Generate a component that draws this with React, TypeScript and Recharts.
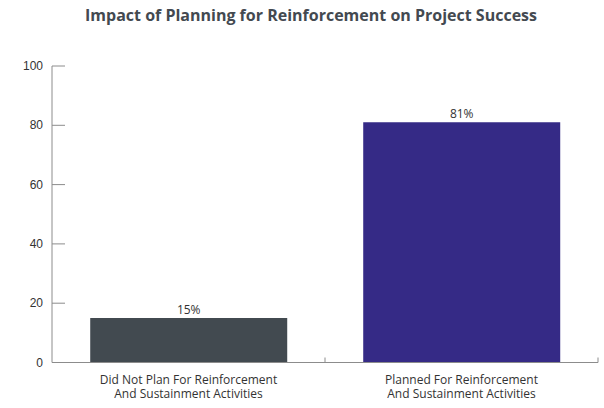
import { Bar, BarChart, Cell, LabelList, XAxis, YAxis } from "recharts";

const categories = [
    ["Did Not Plan For Reinforcement", "And Sustainment Activities"],
    ["Planned For Reinforcement", "And Sustainment Activities"],
];
const successRates = [15, 81];
const yTicks = [0, 20, 40, 60, 80, 100];
const colors = ['#424a50', '#352a86'];

const data = categories.map((lines, i) => ({
    name: lines.join('\n'),
    value: successRates[i],
}));

const axisColor = '#8c8c8c';
const textColor = '#333';
const font = '"Open Sans", sans-serif';

function YTick({ x, y, payload }: any) {
    return (
        <g>
            <line x1={x} y1={y} x2={x + 13} y2={y} stroke={axisColor} strokeWidth={1} />
            <text x={x - 9} y={y} dy={4} textAnchor="end" fontSize={12} fill={textColor} fontFamily='"Liberation Sans", Arial, sans-serif'>
                {payload.value}
            </text>
        </g>
    );
}

function XTick({ x, y, payload }: any) {
    const half = payload.offset || 136.5;
    const lines = String(payload.value).split('\n');
    return (
        <g>
            <line x1={x + half} y1={y} x2={x + half} y2={y - 5} stroke={axisColor} strokeWidth={1} />
            <text x={x} y={y + 21} textAnchor="middle" fontSize={12} fill={textColor} fontFamily={font}>
                {lines.map((line, i) => (
                    <tspan key={i} x={x} dy={i === 0 ? 0 : 14}>{line}</tspan>
                ))}
            </text>
        </g>
    );
}

export default function App() {
    return (
        <div style={{ position: 'absolute', left: 0, top: 0, width: 604, height: 408, background: '#fff' }}>
            <BarChart width={604} height={408} data={data} margin={{ top: 66, right: 6, bottom: 0, left: 0 }} barCategoryGap="14%">
                <text x={311} y={21} textAnchor="middle" fontSize={16} fontWeight={700} fill="#434950" fontFamily={font}>
                    Impact of Planning for Reinforcement on Project Success
                </text>
                <YAxis
                    domain={[0, 100]}
                    ticks={yTicks}
                    width={52}
                    tickSize={0}
                    tickMargin={0}
                    tickLine={false}
                    axisLine={{ stroke: axisColor }}
                    tick={<YTick />}
                    interval={0}
                />
                <XAxis
                    dataKey="name"
                    height={45.5}
                    tickSize={0}
                    tickMargin={0}
                    tickLine={false}
                    axisLine={{ stroke: axisColor }}
                    tick={<XTick />}
                    interval={0}
                />
                <Bar dataKey="value" isAnimationActive={false}>
                    {data.map((entry, index) => (
                        <Cell key={`cell-${index}`} fill={colors[index % colors.length]} />
                    ))}
                    <LabelList dataKey="value" position="top" offset={4} fontSize={12} fill={textColor} fontFamily={font}
                        formatter={(v: any) => `${v}%`} />
                </Bar>
            </BarChart>
        </div>
    );
}
